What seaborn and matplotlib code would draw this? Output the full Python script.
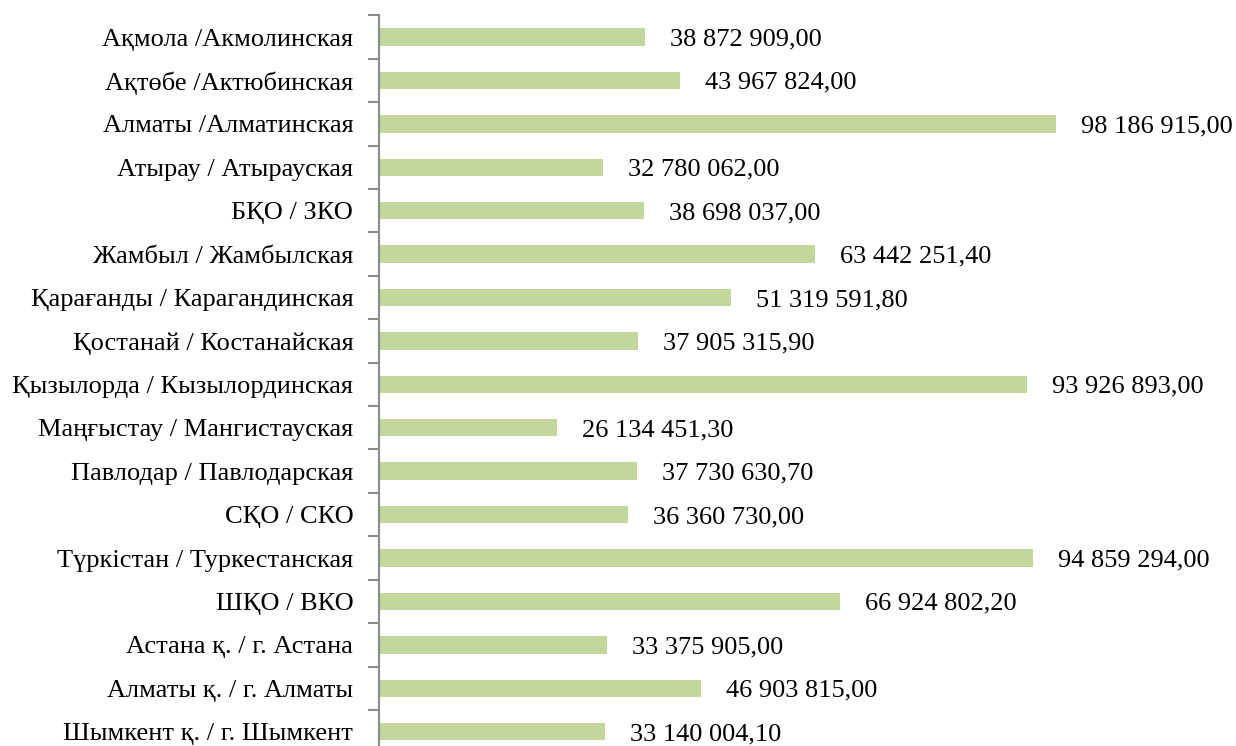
import matplotlib
matplotlib.use("Agg")
import matplotlib.pyplot as plt
import seaborn as sns
import pandas as pd
import numpy as np

regions = [
    "Ақмола /Акмолинская",
    "Ақтөбе /Актюбинская",
    "Алматы /Алматинская",
    "Атырау / Атырауская",
    "БҚО / ЗКО",
    "Жамбыл / Жамбылская",
    "Қарағанды / Карагандинская",
    "Қостанай / Костанайская",
    "Қызылорда / Кызылординская",
    "Маңғыстау / Мангистауская",
    "Павлодар / Павлодарская",
    "СҚО / СКО",
    "Түркістан / Туркестанская",
    "ШҚО / ВКО",
    "Астана қ. / г. Астана",
    "Алматы қ. / г. Алматы",
    "Шымкент қ. / г. Шымкент",
]
amounts = [
    38872909.00,
    43967824.00,
    98186915.00,
    32780062.00,
    38698037.00,
    63442251.40,
    51319591.80,
    37905315.90,
    93926893.00,
    26134451.30,
    37730630.70,
    36360730.00,
    94859294.00,
    66924802.20,
    33375905.00,
    46903815.00,
    33140004.10,
]

df = pd.DataFrame({"region": regions, "amount": amounts})

sns.set_theme(style="white")
plt.rcParams["font.family"] = ["Liberation Serif", "DejaVu Serif"]

fig = plt.figure(figsize=(12.36, 7.46), dpi=100)
ax = fig.add_axes([0.3066, -0.0099, 0.6934, 0.9894])

sns.barplot(data=df, x="amount", y="region", orient="h", color="#C3D69B",
            saturation=1, width=0.4, linewidth=0, ax=ax)

n = len(regions)
ax.set_xlim(0.49e6, 124.1e6)
ax.set_ylim(n - 0.5, -0.5)

for s in ["top", "right", "bottom"]:
    ax.spines[s].set_visible(False)
ax.spines["left"].set_color("#8c8c8c")
ax.spines["left"].set_linewidth(1.5)
ax.set_xticks([])
ax.set_xlabel("")
ax.set_ylabel("")

# tick marks between categories, labels centred on the bars
ax.set_yticks(np.arange(n + 1) - 0.5)
ax.set_yticklabels([])
ax.tick_params(axis="y", which="major", length=8, width=1.5, color="#8c8c8c", left=True)
ax.set_yticks(np.arange(n), minor=True)
ax.set_yticklabels(regions, minor=True, fontsize=19, color="black")
ax.tick_params(axis="y", which="minor", length=0, pad=18.5, left=True)


def fmt(v):
    return f"{v:,.2f}".replace(",", " ").replace(".", ",")


for i, v in enumerate(amounts):
    ax.annotate(fmt(v), xy=(v, i), xytext=(18, 0), textcoords="offset points",
                ha="left", va="center_baseline", fontsize=19, color="black",
                annotation_clip=False)

fig.savefig("out.png", dpi=100)
